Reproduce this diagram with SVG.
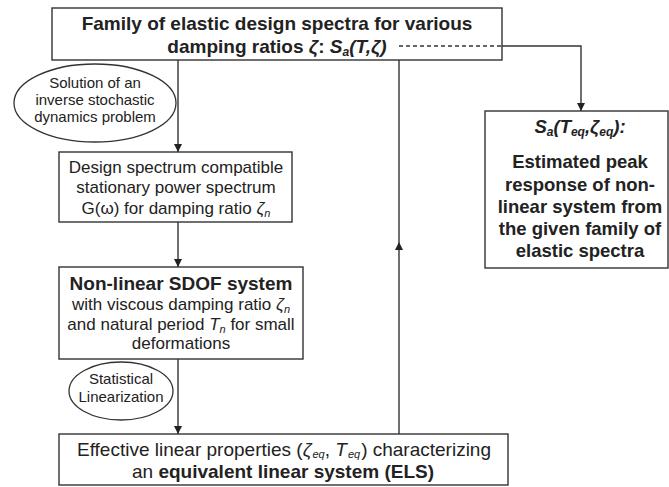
<svg xmlns="http://www.w3.org/2000/svg" width="669" height="487" viewBox="0 0 669 487">
<style>
.box{fill:#fff;stroke:#333;stroke-width:1.4}
.ell{fill:#fff;stroke:#333;stroke-width:1.3}
.ln{fill:none;stroke:#333;stroke-width:1.4}
.dash{fill:none;stroke:#333;stroke-width:1.3;stroke-dasharray:4 3}
text{font-family:"Liberation Sans",Arial,sans-serif;fill:#222;text-anchor:middle}
.b{font-weight:bold}
.i{font-style:italic}
</style>
<defs>
<marker id="arr" viewBox="0 0 10 10" refX="10" refY="5" markerWidth="8" markerHeight="8" markerUnits="userSpaceOnUse" orient="auto">
<path d="M0,0 L10,5 L0,10 z" fill="#222"/>
</marker>
</defs>
<g id="connectors">
<path class="ln" d="M178,60 L178,152" marker-end="url(#arr)"/>
<path class="ln" d="M178,222 L178,267" marker-end="url(#arr)"/>
<path class="ln" d="M178,359 L178,434" marker-end="url(#arr)"/>
<path class="ln" d="M399,434 L399,242 L399,52" marker-mid="url(#arr)"/>
<path class="ln" d="M502,46 L581,46 L581,111" marker-end="url(#arr)"/>
</g>
<g id="top">
<rect class="box" x="52" y="8" width="450" height="52"/>
<text class="b" x="277" y="30" font-size="19">Family of elastic design spectra for various</text>
<text class="b" x="277" y="53" font-size="19">damping ratios <tspan class="i">ζ</tspan>: <tspan class="i">S</tspan><tspan class="i" font-size="12" dy="3">a</tspan><tspan class="i" dy="-3">(T,ζ)</tspan></text>
<path class="dash" d="M399,46 L502,46"/>
</g>
<g id="ellipse1">
<ellipse class="ell" cx="95" cy="103" rx="81" ry="39"/>
<text x="95" y="88" font-size="15">Solution of an</text>
<text x="95" y="105" font-size="15">inverse stochastic</text>
<text x="95" y="122" font-size="15">dynamics problem</text>
</g>
<g id="design">
<rect class="box" x="59" y="152" width="233" height="70"/>
<text x="176" y="173" font-size="17">Design spectrum compatible</text>
<text x="176" y="193" font-size="17">stationary power spectrum</text>
<text x="176" y="214" font-size="17">G(ω) for damping ratio <tspan class="i">ζ</tspan><tspan class="i" font-size="11" dy="3">n</tspan></text>
</g>
<g id="sdof">
<rect class="box" x="59" y="267" width="244" height="92"/>
<text class="b" x="181" y="290" font-size="19">Non-linear SDOF system</text>
<text x="181" y="310" font-size="17">with viscous damping ratio <tspan class="i">ζ</tspan><tspan class="i" font-size="11" dy="3">n</tspan></text>
<text x="181" y="330" font-size="17">and natural period <tspan class="i">T</tspan><tspan class="i" font-size="11" dy="3">n</tspan><tspan dy="-3"> for small</tspan></text>
<text x="181" y="349" font-size="17">deformations</text>
</g>
<g id="ellipse2">
<ellipse class="ell" cx="121" cy="391" rx="52" ry="29"/>
<text x="121" y="384" font-size="15">Statistical</text>
<text x="121" y="402" font-size="15">Linearization</text>
</g>
<g id="els">
<rect class="box" x="59" y="434" width="449" height="51"/>
<text x="284" y="456" font-size="19">Effective linear properties (<tspan class="i">ζ</tspan><tspan class="i" font-size="11" dx="1" dy="2">eq</tspan><tspan dy="-2">, </tspan><tspan class="i">T</tspan><tspan class="i" font-size="11" dx="1" dy="2">eq</tspan><tspan dx="1" dy="-2">) characterizing</tspan></text>
<text x="283" y="478" font-size="19">an <tspan class="b">equivalent linear system (ELS)</tspan></text>
</g>
<g id="result">
<rect class="box" x="485" y="111" width="183" height="157"/>
<text class="b i" x="580" y="133" font-size="18.5">S<tspan font-size="12" dy="3">a</tspan><tspan dy="-3">(T</tspan><tspan font-size="12" dy="3">eq</tspan><tspan dy="-3">,ζ</tspan><tspan font-size="12" dy="3">eq</tspan><tspan dy="-3">):</tspan></text>
<text class="b" x="580" y="168" font-size="18.5">Estimated peak</text>
<text class="b" x="580" y="191" font-size="18.5">response of non-</text>
<text class="b" x="580" y="213" font-size="18.5">linear system from</text>
<text class="b" x="580" y="235" font-size="18.5">the given family of</text>
<text class="b" x="580" y="257" font-size="18.5">elastic spectra</text>
</g>
</svg>
